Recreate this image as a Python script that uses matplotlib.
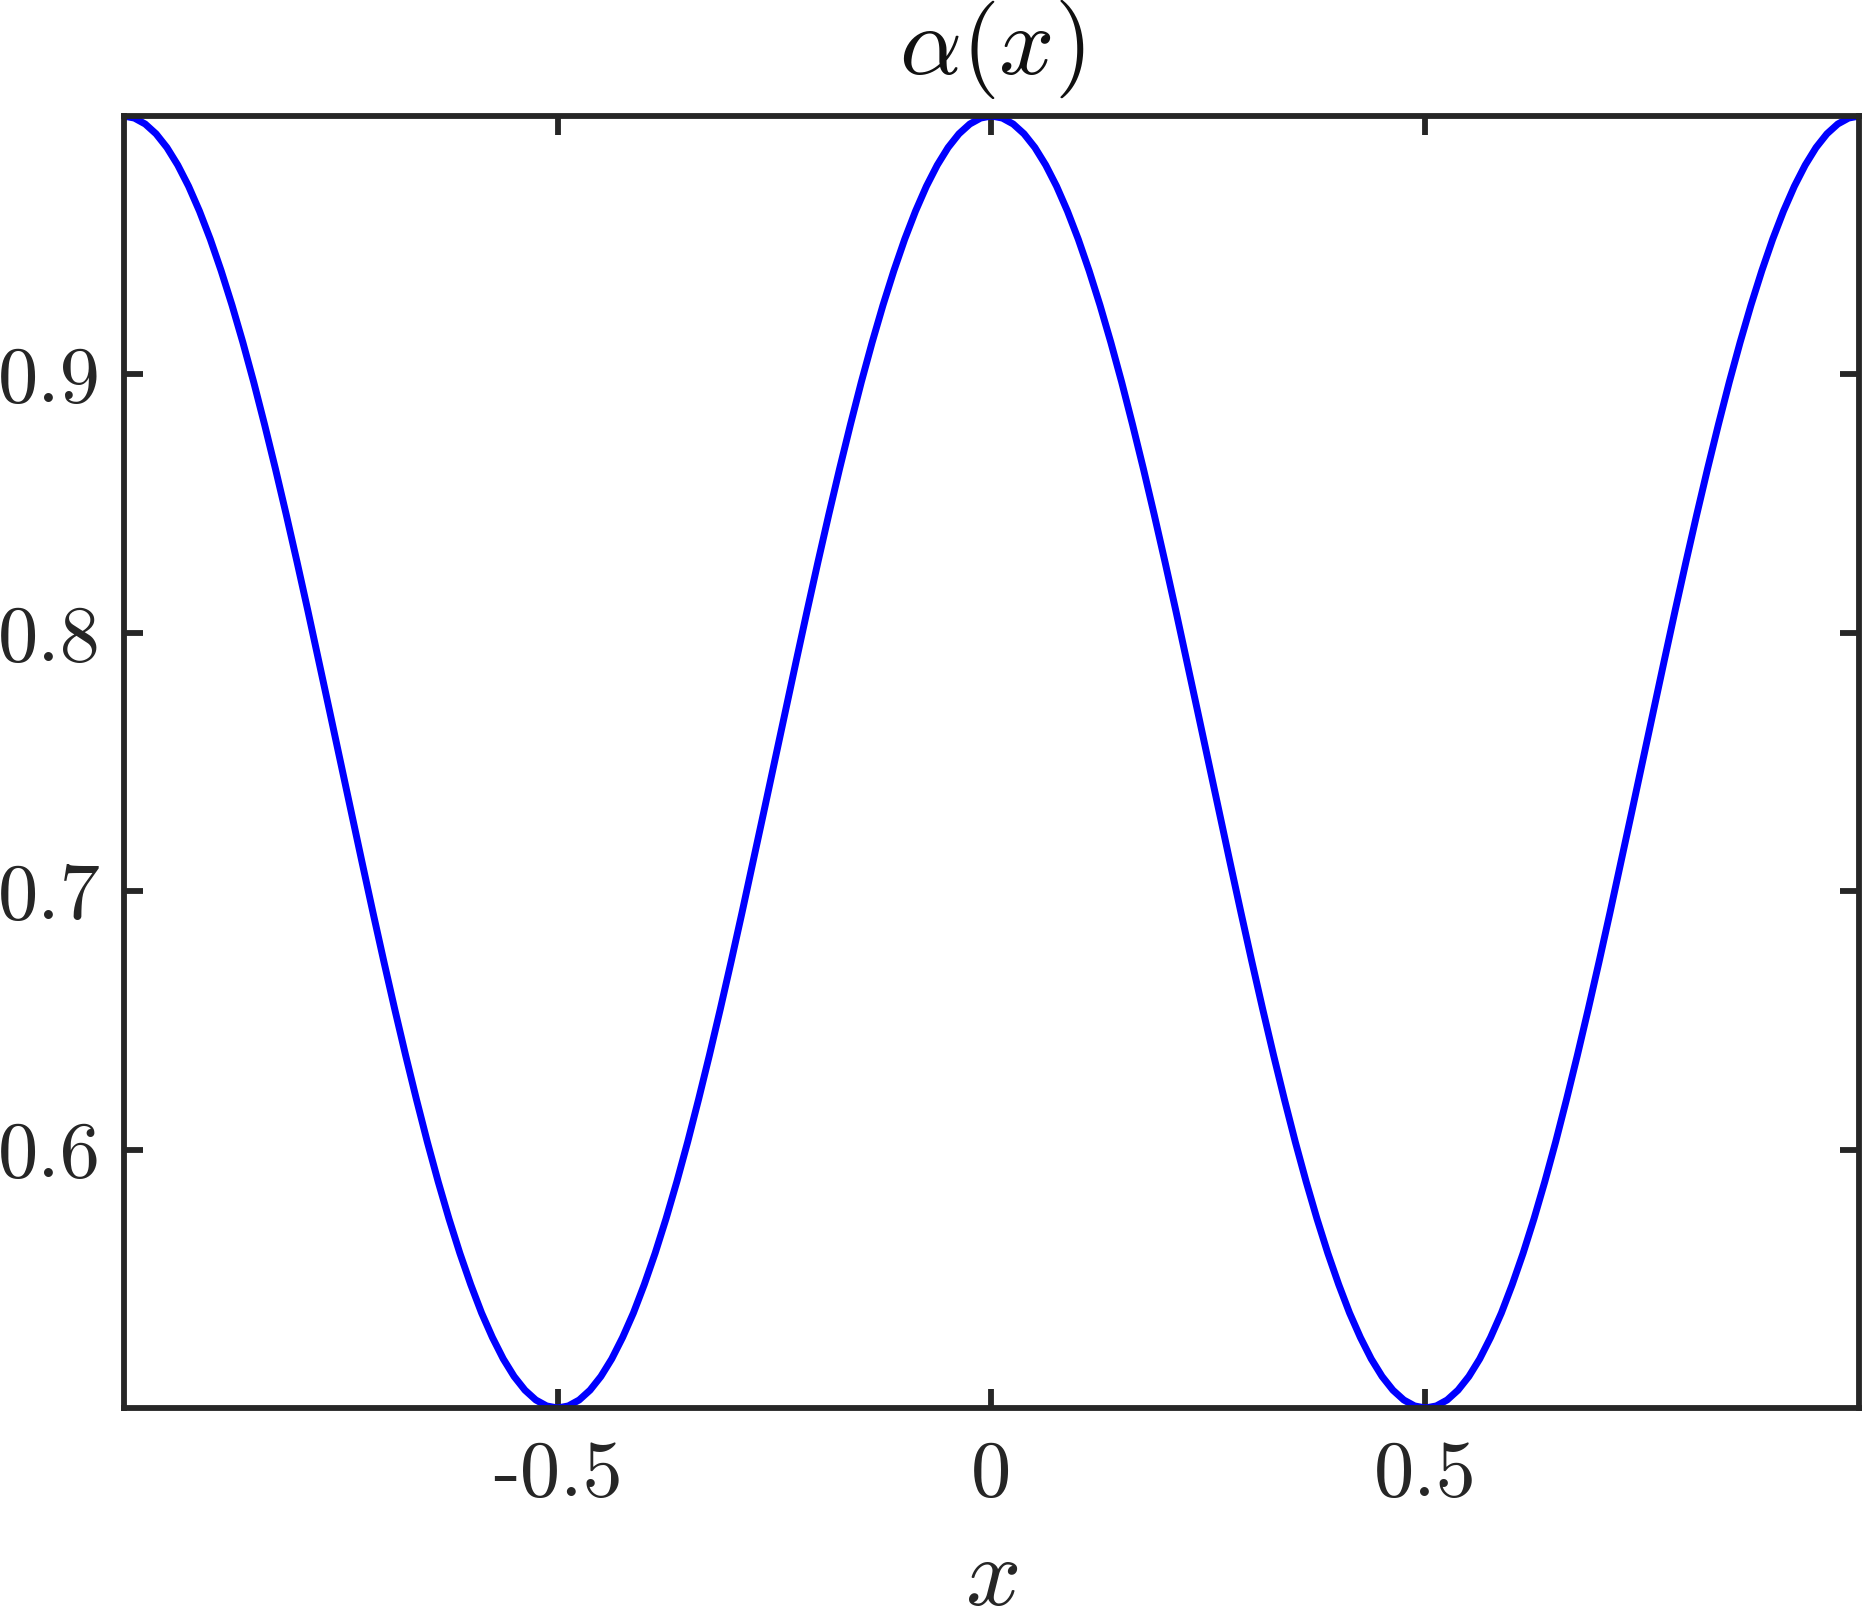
import numpy as np
import matplotlib
matplotlib.use("Agg")
import matplotlib.pyplot as plt

plt.rcParams['mathtext.fontset'] = 'cm'
plt.rcParams['font.family'] = ['cmr10', 'DejaVu Serif']
plt.rcParams['axes.unicode_minus'] = False

# the curve is symmetric, so the other half mirrors it
half_period = [1.0000, 0.9992, 0.9969, 0.9931, 0.9878, 0.9810, 0.9728, 0.9632,
               0.9523, 0.9401, 0.9268, 0.9124, 0.8970, 0.8806, 0.8635, 0.8457,
               0.8273, 0.8084, 0.7891, 0.7696, 0.7500, 0.7304, 0.7109, 0.6916,
               0.6727, 0.6543, 0.6365, 0.6194, 0.6030, 0.5876, 0.5732, 0.5599,
               0.5478, 0.5368, 0.5273, 0.5190, 0.5122, 0.5069, 0.5031, 0.5008,
               0.5000]
one_period = half_period + half_period[-2:0:-1]
alpha_vals = one_period + one_period + [1.0000]
x_vals = np.linspace(-1, 1, len(alpha_vals))

xticks = [-0.5, 0, 0.5]
xticklabels = ['-0.5', '0', '0.5']
yticks = [0.6, 0.7, 0.8, 0.9]
yticklabels = ['0.6', '0.7', '0.8', '0.9']

dark = '#262626'

fig = plt.figure(figsize=(18.63, 16.18), dpi=100)
ax = fig.add_axes([0.0663, 0.1298, 0.9318, 0.7985])
ax.plot(x_vals, alpha_vals, color='#0000ff', lw=5.0, solid_capstyle='round')
ax.set_xlim(-1, 1)
ax.set_ylim(0.5, 1.0)

ax.set_xticks(xticks)
ax.set_xticklabels(xticklabels)
ax.set_yticks(yticks)
ax.set_yticklabels(yticklabels)

for s in ax.spines.values():
    s.set_linewidth(4.2)
    s.set_color(dark)
ax.tick_params(direction='in', length=14, width=4.2, color=dark, labelcolor=dark,
               labelsize=58, top=True, right=True)
ax.tick_params(axis='x', pad=23)
ax.tick_params(axis='y', pad=16.5)

ax.set_title('$\\alpha(x)$', fontsize=70, color='#111111', pad=30)
ax.set_xlabel('$x$', fontsize=70, color=dark, labelpad=18)

fig.savefig('out.png', dpi=100)
